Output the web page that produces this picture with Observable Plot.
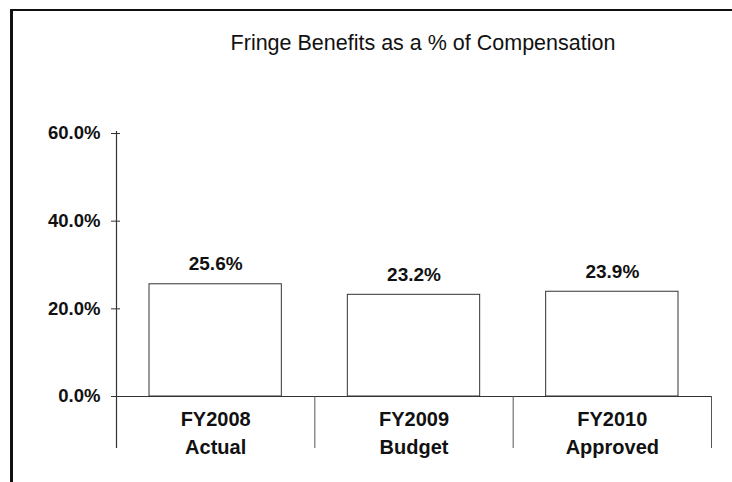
<!DOCTYPE html>
<html>
<head>
<meta charset="utf-8">
<script src="https://cdn.jsdelivr.net/npm/d3@7"></script>
<script src="https://cdn.jsdelivr.net/npm/@observablehq/plot@0.6"></script>
<style>
  html, body { margin: 0; padding: 0; background: #fff; overflow: hidden; }
  #wrap { position: relative; width: 732px; height: 482px; }
  #frame { position: absolute; left: 10px; top: 9px; width: 760px; height: 500px;
           border-left: 3px solid #111; border-top: 2px solid #111; pointer-events: none; }
</style>
</head>
<body>
<div id="wrap"><div id="frame"></div></div>
<script>
const title = "Fringe Benefits as a % of Compensation";
const categories = ["FY2008", "FY2009", "FY2010"];
const subLabels = ["Actual", "Budget", "Approved"];
const values = [25.6, 23.2, 23.9];
const yTicks = [0, 20, 40, 60];
const edges = [0, 1, 2, 3];

const data = categories.map((c, i) => ({i, cat: c, sub: subLabels[i], value: values[i]}));
const font = "Arial, 'Liberation Sans', sans-serif";

const chart = Plot.plot({
  width: 732,
  height: 482,
  marginTop: 133,
  marginBottom: 86,
  marginLeft: 116,
  marginRight: 21,
  style: {fontFamily: font, background: "transparent", color: "#111"},
  x: {domain: [0, 3], axis: null},
  y: {domain: [0, 60], axis: null},
  marks: [
    Plot.rectY(data, {x1: "i", x2: d => d.i + 1, y: "value", insetLeft: 33, insetRight: 33,
      fill: "white", stroke: "#333", strokeWidth: 1}),
    Plot.ruleY([0], {stroke: "#333", strokeWidth: 1.2}),
    Plot.ruleX([0], {y1: 60, y2: 0, insetTop: -2, insetBottom: -52, stroke: "#333", strokeWidth: 1.2}),
    Plot.ruleX(edges.slice(1), {y1: 0, y2: 0, insetTop: 0, insetBottom: -52, stroke: "#555", strokeWidth: 1}),
    Plot.ruleY(yTicks, {y: d => d, x1: 0, x2: 0, insetLeft: -5, insetRight: -4, stroke: "#333"}),
    Plot.text(yTicks, {y: d => d, x: 0, dx: -16, textAnchor: "end", text: d => d.toFixed(1) + "%",
      fontSize: 18.5, fontWeight: "bold", fill: "#111"}),
    Plot.text(data, {x: d => d.i + 0.5, y: "value", dy: -20, text: d => d.value.toFixed(1) + "%",
      fontSize: 19, fontWeight: "bold", fill: "#111"}),
    Plot.text(data, {x: d => d.i + 0.5, y: 0, dy: 35, text: d => d.cat + "\n" + d.sub,
      lineAnchor: "middle", lineHeight: 1.4, fontSize: 20, fontWeight: "bold", fill: "#111"}),
    Plot.text([title], {frameAnchor: "top", dx: 9, dy: -98.5, fontSize: 21.5, fill: "#111"})
  ]
});
chart.style.position = "absolute";
chart.style.left = "0px";
chart.style.top = "0px";
document.getElementById("wrap").appendChild(chart);
</script>
</body>
</html>
